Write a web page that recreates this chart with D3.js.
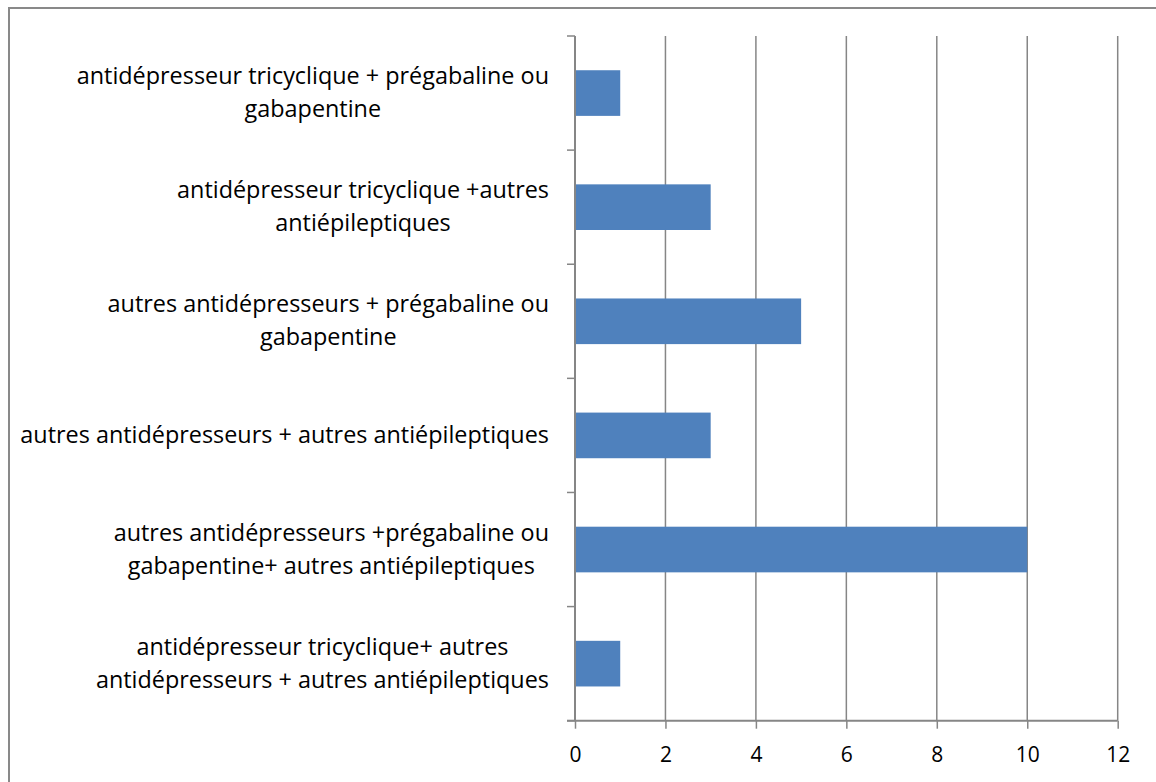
<!DOCTYPE html>
<html>
<head>
<meta charset="utf-8">
<script src="https://cdn.jsdelivr.net/npm/d3@7"></script>
<style>
  html, body { margin: 0; padding: 0; background: #fff; }
  svg { display: block; }
  text { font-family: "Open Sans", sans-serif; fill: #000; }
</style>
</head>
<body>
<svg id="chart" width="1156" height="782"></svg>
<script>
// ---- data ----
const categories = [
  "antidépresseur tricyclique + prégabaline ou\ngabapentine",
  "antidépresseur tricyclique +autres\nantiépileptiques",
  "autres antidépresseurs + prégabaline ou\ngabapentine",
  "autres antidépresseurs + autres antiépileptiques",
  "autres antidépresseurs +prégabaline ou\ngabapentine+ autres antiépileptiques",
  "antidépresseur tricyclique+ autres\nantidépresseurs + autres antiépileptiques"
];
const values = [1, 3, 5, 3, 10, 1];
const xTicks = [0, 2, 4, 6, 8, 10, 12];

// ---- layout ----
(function () {
const svg = d3.select("#chart");
const pLeft = 575, pRight = 1117.7, pTop = 36, pBottom = 720.7;
const axisColor = "#868686";
const barColor = "#4F81BD";

// outer border
svg.append("rect")
  .attr("x", 9).attr("y", 8).attr("width", 1160).attr("height", 790)
  .attr("fill", "none").attr("stroke", "#898989").attr("stroke-width", 2);

const x = d3.scaleLinear().domain([0, 12]).range([pLeft, pRight]);
const y = d3.scaleBand().domain(categories).range([pTop, pBottom]).paddingInner(0.6).paddingOuter(0.3);
const yb = d3.scaleBand().domain(categories).range([pTop, pBottom]);

// gridlines
svg.append("g").selectAll("line").data(xTicks.filter(d => d > 0)).join("line")
  .attr("x1", d => x(d)).attr("x2", d => x(d))
  .attr("y1", pTop).attr("y2", pBottom)
  .attr("stroke", axisColor).attr("stroke-width", 1.5);

// bars
svg.append("g").selectAll("rect").data(values).join("rect")
  .attr("x", x(0))
  .attr("y", (d, i) => y(categories[i]))
  .attr("width", d => x(d) - x(0))
  .attr("height", y.bandwidth())
  .attr("fill", barColor);

// x axis
const xAxis = svg.append("g").attr("transform", `translate(0,${pBottom})`)
  .call(d3.axisBottom(x).tickValues(xTicks).tickSize(8).tickPadding(18).tickSizeOuter(0));
xAxis.attr("font-size", null).attr("font-family", null);
xAxis.select(".domain").attr("stroke", axisColor).attr("stroke-width", 2)
  .attr("d", `M${pLeft - 8},0H${pRight}`);
xAxis.selectAll(".tick line").attr("stroke", axisColor).attr("stroke-width", 1.5);
xAxis.selectAll(".tick text")
  .style("font-size", "21px").style("fill", "#000")
  .style("font-family", '"Open Sans", sans-serif');

// y axis line + ticks at band boundaries
svg.append("line").attr("x1", pLeft).attr("x2", pLeft).attr("y1", pTop).attr("y2", pBottom)
  .attr("stroke", axisColor).attr("stroke-width", 2);
const bounds = categories.map(c => yb(c)).concat([pBottom]);
svg.append("g").selectAll("line").data(bounds).join("line")
  .attr("x1", pLeft - 8).attr("x2", pLeft).attr("y1", d => d).attr("y2", d => d)
  .attr("stroke", axisColor).attr("stroke-width", 1.5);

// category labels
const labelRight = 549;
const lineH = 33;
const probe = svg.append("text").style("font-size", "20px").text("autres antidépresseurs + autres antiépileptiques");
const w20 = probe.node().getComputedTextLength();
probe.remove();
const fs = 20 * 529 / w20;

const lab = svg.append("g");
categories.forEach(c => {
  const lines = c.split("\n");
  const cy = yb(c) + yb.bandwidth() / 2;
  const g = lab.append("g");
  const texts = lines.map((l, i) => g.append("text")
    .style("font-size", fs + "px")
    .attr("text-anchor", "middle")
    .attr("y", cy + (i - (lines.length - 1) / 2) * lineH + 7.5)
    .text(l));
  const maxW = d3.max(texts, t => t.node().getComputedTextLength());
  texts.forEach(t => t.attr("x", labelRight - maxW / 2));
});
})();
</script>
</body>
</html>
